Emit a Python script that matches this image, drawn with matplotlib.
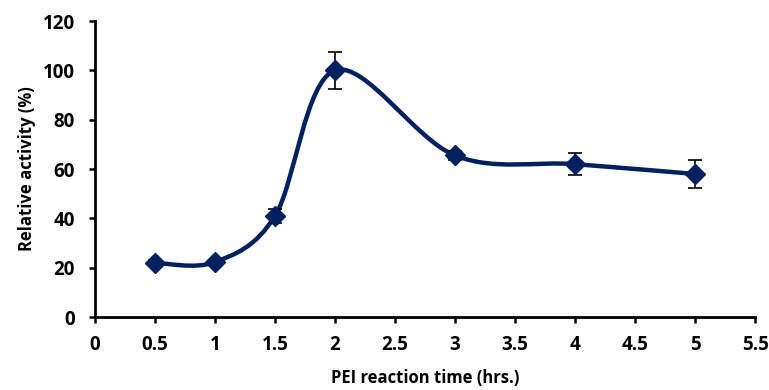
import numpy as np
import matplotlib
matplotlib.use("Agg")
import matplotlib.pyplot as plt
from matplotlib.path import Path
from matplotlib.patches import PathPatch

plt.rcParams['font.family'] = ['Open Sans', 'DejaVu Sans']
plt.rcParams['font.weight'] = 'bold'

time_hrs = [0.5, 1, 1.5, 2, 3, 4, 5]
activity = [22, 22.3, 41, 100, 65.5, 62, 58]
errors = [1.0, 1.0, 3.0, 7.5, 2.0, 4.5, 5.6]
xticks = [0, 0.5, 1, 1.5, 2, 2.5, 3, 3.5, 4, 4.5, 5, 5.5]
yticks = [0, 20, 40, 60, 80, 100, 120]

color = '#002060'

fig = plt.figure(figsize=(7.69, 3.9), dpi=100)
ax = fig.add_axes([0.1235, 0.187, 0.8585, 0.759])

# Excel-like smoothed line (Catmull-Rom Bezier)
x = np.array(time_hrs, float)
y = np.array(activity, float)
n = len(x)
verts = [(x[0], y[0])]
codes = [Path.MOVETO]
for i in range(n - 1):
    p0 = np.array([x[max(i - 1, 0)], y[max(i - 1, 0)]])
    p1 = np.array([x[i], y[i]])
    p2 = np.array([x[i + 1], y[i + 1]])
    p3 = np.array([x[min(i + 2, n - 1)], y[min(i + 2, n - 1)]])
    c1 = p1 + (p2 - p0) / 6.0
    c2 = p2 - (p3 - p1) / 6.0
    verts += [tuple(c1), tuple(c2), tuple(p2)]
    codes += [Path.CURVE4] * 3
patch = PathPatch(Path(verts, codes), facecolor='none', edgecolor=color, lw=3.2, zorder=2)
ax.add_patch(patch)

ax.errorbar(time_hrs, activity, yerr=errors, fmt='none', ecolor='black',
            elinewidth=1.2, capsize=5, capthick=1.2, zorder=3)
ax.plot(time_hrs, activity, linestyle='none', marker='D', markersize=10,
        color=color, zorder=4)

ax.set_xlim(0, 5.5)
ax.set_ylim(0, 120)
ax.set_xticks(xticks)
ax.set_xticklabels([f"{t:g}" for t in xticks])
ax.set_yticks(yticks)
for s in ['top', 'right']:
    ax.spines[s].set_visible(False)
for s in ['left', 'bottom']:
    ax.spines[s].set_linewidth(2)
ax.tick_params(axis='both', direction='out', width=1.8, length=4.5, labelsize=13.5)
ax.tick_params(axis='x', pad=8.5)
ax.tick_params(axis='y', pad=10)
for lab in ax.get_xticklabels() + ax.get_yticklabels():
    lab.set_fontweight('bold')
ax.set_xlabel('PEI reaction time (hrs.)', fontsize=12, fontweight='bold', labelpad=10)
ax.set_ylabel('Relative activity (%)', fontsize=12, fontweight='bold', labelpad=5)

fig.savefig('out.png', dpi=100)
